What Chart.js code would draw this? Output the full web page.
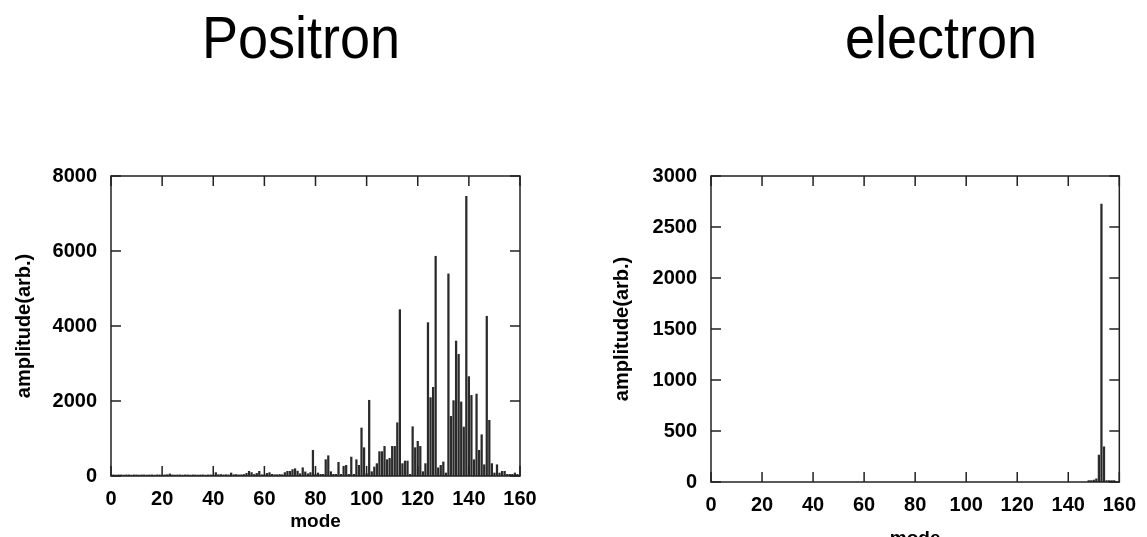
<!DOCTYPE html>
<html>
<head>
<meta charset="utf-8">
<script src="https://cdn.jsdelivr.net/npm/chart.js@4"></script>
<style>
  html, body { margin: 0; padding: 0; background: #fff; overflow: hidden; }
  body { width: 1147px; height: 537px; position: relative; }
  .ttl { position: absolute; top: 8px; font-family: "Liberation Sans", Arial, sans-serif; font-size: 60px; line-height: 60px; color: #000; transform: translateX(-50%) scaleX(0.9); white-space: nowrap; }
  canvas { position: absolute; top: 0; }
</style>
</head>
<body>
<div class="ttl" style="left:301px">Positron</div>
<div class="ttl" style="left:941px">electron</div>
<canvas id="posChart" width="573" height="537" style="left:0"></canvas>
<canvas id="eleChart" width="574" height="560" style="left:573px"></canvas>
<script>
// positron: amplitude per mode 0..159
let posModes = Array.from({length: 160}, (_, i) => i);
let posAmp = [
    30, 30, 25, 30, 30, 25, 30, 30, 25, 30,
    30, 25, 30, 30, 25, 30, 30, 25, 30, 30,
    25, 30, 35, 55, 30, 25, 30, 30, 25, 30,
    30, 25, 30, 30, 25, 30, 30, 25, 30, 30,
    25, 90, 35, 40, 30, 35, 30, 80, 35, 40,
    30, 35, 40, 70, 125, 90, 40, 70, 125, 35,
    30, 70, 90, 45, 35, 35, 40, 35, 90, 125,
    125, 170, 195, 130, 60, 220, 110, 60, 90, 685,
    40, 80, 45, 45, 435, 540, 115, 45, 45, 365,
    45, 260, 285, 45, 505, 45, 435, 285, 1280, 755,
    60, 2020, 115, 240, 330, 650, 650, 790, 435, 470,
    790, 790, 1420, 4435, 330, 400, 400, 45, 1315, 755,
    925, 790, 115, 330, 4090, 2090, 2365, 5860, 220, 285,
    375, 80, 5390, 1590, 2010, 3600, 3245, 1975, 1305, 7460,
    2650, 2150, 435, 2185, 685, 1100, 300, 4260, 1485, 330,
    80, 300, 80, 125, 125, 45, 45, 45, 80, 45
];

// electron: only the modes near the end carry amplitude
let eleModes = [148, 149, 150, 151, 152, 153, 154, 155, 156, 157, 158];
let eleAmp = [15, 15, 20, 30, 265, 2725, 345, 15, 15, 15, 15];

let xTicks = [0, 20, 40, 60, 80, 100, 120, 140, 160];

const boldFont = {family: "'Liberation Sans', Arial, sans-serif", size: 20, weight: 'bold'};
const modeFont = {family: "'Liberation Sans', Arial, sans-serif", size: 19, weight: 'bold'};

// box round the plot, ticks pointing inwards on all four sides
const frameTicks = {
    id: 'frameTicks',
    afterDatasetsDraw(chart) {
        const {ctx, chartArea: a, scales: {x, y}} = chart;
        ctx.save();
        ctx.strokeStyle = '#222';
        ctx.lineWidth = 1.5;
        ctx.strokeRect(a.left, a.top, a.right - a.left, a.bottom - a.top);
        ctx.beginPath();
        for (let t of x.ticks) {
            let px = x.getPixelForValue(t.value);
            ctx.moveTo(px, a.bottom); ctx.lineTo(px, a.bottom - 10);
            ctx.moveTo(px, a.top); ctx.lineTo(px, a.top + 10);
        }
        for (let t of y.ticks) {
            let py = y.getPixelForValue(t.value);
            ctx.moveTo(a.left, py); ctx.lineTo(a.left + 10, py);
            ctx.moveTo(a.right, py); ctx.lineTo(a.right - 10, py);
        }
        ctx.stroke();
        ctx.restore();
    }
};

function makeConfig(modes, amps, yMax, yStep, yWidth, xHeight, pad, yTitlePad, xTitlePad) {
    return {
        type: 'bar',
        data: {
            datasets: [{
                data: modes.map((m, i) => ({x: m, y: amps[i]})),
                backgroundColor: '#2a2a2a',
                borderWidth: 0,
                barThickness: 1.6
            }]
        },
        options: {
            responsive: false,
            animation: false,
            layout: {padding: pad},
            plugins: {legend: {display: false}, tooltip: {enabled: false}},
            scales: {
                x: {
                    type: 'linear',
                    offset: false,
                    min: 0,
                    max: 160,
                    afterBuildTicks: (s) => { s.ticks = xTicks.map(v => ({value: v})); },
                    afterFit: (s) => { s.height = xHeight; },
                    grid: {display: false, drawTicks: false},
                    border: {display: false},
                    ticks: {color: '#000', font: boldFont, padding: 11, maxRotation: 0, autoSkip: false,
                        callback: (v) => String(v)},
                    title: {display: true, text: 'mode', color: '#000', font: modeFont, padding: {top: 0, bottom: xTitlePad}}
                },
                y: {
                    min: 0,
                    max: yMax,
                    afterFit: (s) => { s.width = yWidth; },
                    grid: {display: false, drawTicks: false},
                    border: {display: false},
                    ticks: {stepSize: yStep, color: '#000', font: boldFont, padding: 14,
                        callback: (v) => String(v)},
                    title: {display: true, text: 'amplitude(arb.)', color: '#000', font: boldFont, padding: {top: yTitlePad, bottom: 0}}
                }
            }
        },
        plugins: [frameTicks]
    };
}

new Chart(document.getElementById('posChart'),
    makeConfig(posModes, posAmp, 8000, 2000, 111, 61, {top: 176, right: 53, bottom: 0, left: 0}, 12, 4));

new Chart(document.getElementById('eleChart'),
    makeConfig(eleModes, eleAmp, 3000, 500, 138, 78, {top: 176, right: 19, bottom: 0, left: 0}, 37, 10));
</script>
</body>
</html>
